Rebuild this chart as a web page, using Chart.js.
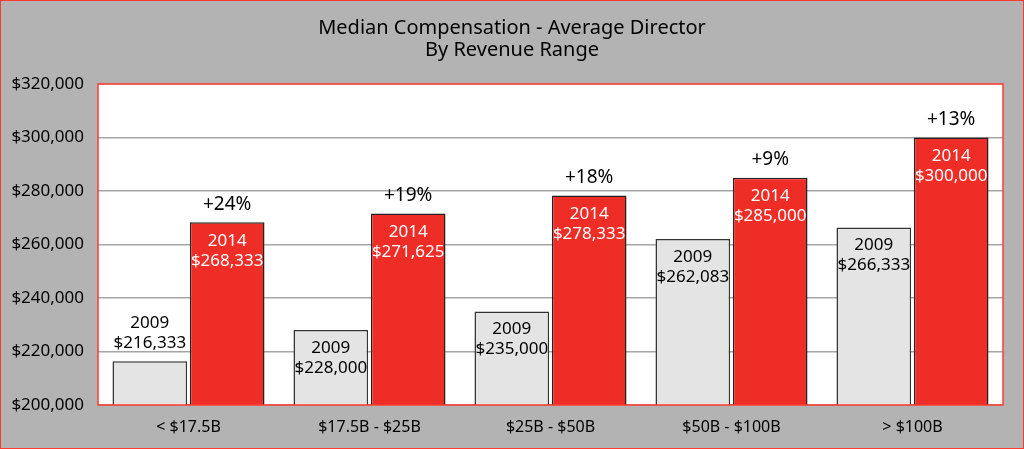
<!DOCTYPE html>
<html>
<head>
<meta charset="utf-8">
<script src="https://cdn.jsdelivr.net/npm/chart.js@4"></script>
<style>
  html, body { margin: 0; padding: 0; background: #b3b3b3; }
  #wrap { width: 1024px; height: 449px; }
</style>
</head>
<body>
<div id="wrap"><canvas id="compChart" width="1024" height="449"></canvas></div>
<script>
const categories = ['< $17.5B', '$17.5B - $25B', '$25B - $50B', '$50B - $100B', '> $100B'];
const values2009 = [216333, 228000, 235000, 262083, 266333];
const values2014 = [268333, 271625, 278333, 285000, 300000];
const changeLabels = ['+24%', '+19%', '+18%', '+9%', '+13%'];
const titleLines = ['Median Compensation - Average Director', 'By Revenue Range'];
const FONT = '"Noto Sans", "Open Sans", sans-serif';

function money(v) {
    return '$' + v.toLocaleString('en-US');
}

// grey background, red frame, white plot area, title
const backdrop = {
    id: 'backdrop',
    beforeDraw(chart) {
        const ctx = chart.ctx;
        const a = chart.chartArea;
        ctx.save();
        ctx.fillStyle = '#b3b3b3';
        ctx.fillRect(0, 0, chart.width, chart.height);
        ctx.strokeStyle = '#ff3b30';
        ctx.lineWidth = 1;
        ctx.strokeRect(0.5, 0.5, chart.width - 1, chart.height - 1);
        ctx.fillStyle = '#ffffff';
        ctx.fillRect(a.left, a.top, a.right - a.left, a.bottom - a.top);
        ctx.fillStyle = '#000';
        ctx.font = '20px ' + FONT;
        ctx.textAlign = 'center';
        ctx.textBaseline = 'middle';
        ctx.fillText(titleLines[0], 512, 28);
        ctx.fillText(titleLines[1], 512, 50);
        ctx.restore();
    },
    afterDraw(chart) {
        const ctx = chart.ctx;
        const a = chart.chartArea;
        ctx.save();
        ctx.strokeStyle = '#ff3b30';
        ctx.lineWidth = 1.5;
        ctx.strokeRect(a.left, a.top, a.right - a.left, a.bottom - a.top);
        ctx.restore();
    }
};

// value labels on the bars
const barLabels = {
    id: 'barLabels',
    afterDatasetsDraw(chart) {
        const ctx = chart.ctx;
        const bottom = chart.chartArea.bottom;
        ctx.save();
        ctx.textAlign = 'center';
        ctx.textBaseline = 'middle';
        ctx.font = '17px ' + FONT;
        chart.getDatasetMeta(0).data.forEach(function(bar, i) {
            const h = bottom - bar.y;
            ctx.fillStyle = '#000';
            if (h > 50) {
                ctx.fillText('2009', bar.x, bar.y + 18);
                ctx.fillText(money(values2009[i]), bar.x, bar.y + 38);
            } else {
                ctx.fillText('2009', bar.x, bar.y - 38);
                ctx.fillText(money(values2009[i]), bar.x, bar.y - 18);
            }
        });
        chart.getDatasetMeta(1).data.forEach(function(bar, i) {
            ctx.fillStyle = '#fff';
            ctx.font = '17px ' + FONT;
            ctx.fillText('2014', bar.x, bar.y + 19);
            ctx.fillText(money(values2014[i]), bar.x, bar.y + 39);
            ctx.fillStyle = '#000';
            ctx.font = '19px ' + FONT;
            ctx.fillText(changeLabels[i], bar.x, bar.y - 18);
        });
        ctx.restore();
    }
};

const config = {
    type: 'bar',
    data: {
        labels: categories,
        datasets: [{
            label: '2009',
            data: values2009,
            backgroundColor: '#e4e4e4',
            borderColor: '#333333',
            borderWidth: 1.5,
            borderSkipped: 'bottom'
        }, {
            label: '2014',
            data: values2014,
            backgroundColor: '#ee2d27',
            borderColor: '#222222',
            borderWidth: 1.5,
            borderSkipped: 'bottom'
        }]
    },
    options: {
        responsive: false,
        animation: false,
        devicePixelRatio: 1,
        layout: { padding: { top: 84, right: 21, left: 0, bottom: 0 } },
        datasets: { bar: { categoryPercentage: 0.855, barPercentage: 0.965 } },
        plugins: {
            legend: { display: false },
            title: { display: false },
            tooltip: { enabled: false }
        },
        scales: {
            x: {
                grid: { display: false, drawTicks: false },
                border: { display: false },
                ticks: { color: '#000', font: { family: FONT, size: 16 }, padding: 13 },
                afterFit(scale) { scale.height = 44; }
            },
            y: {
                min: 200000,
                max: 320000,
                grid: { color: '#a6a6a6', lineWidth: 1.5, drawTicks: false },
                border: { display: false },
                ticks: {
                    stepSize: 20000,
                    color: '#000',
                    padding: 14,
                    font: { family: FONT, size: 17 },
                    callback: function(v) { return money(v); }
                },
                afterFit(scale) { scale.width = 98; }
            }
        }
    },
    plugins: [backdrop, barLabels]
};

const myChart = new Chart(document.getElementById('compChart'), config);
</script>
</body>
</html>
